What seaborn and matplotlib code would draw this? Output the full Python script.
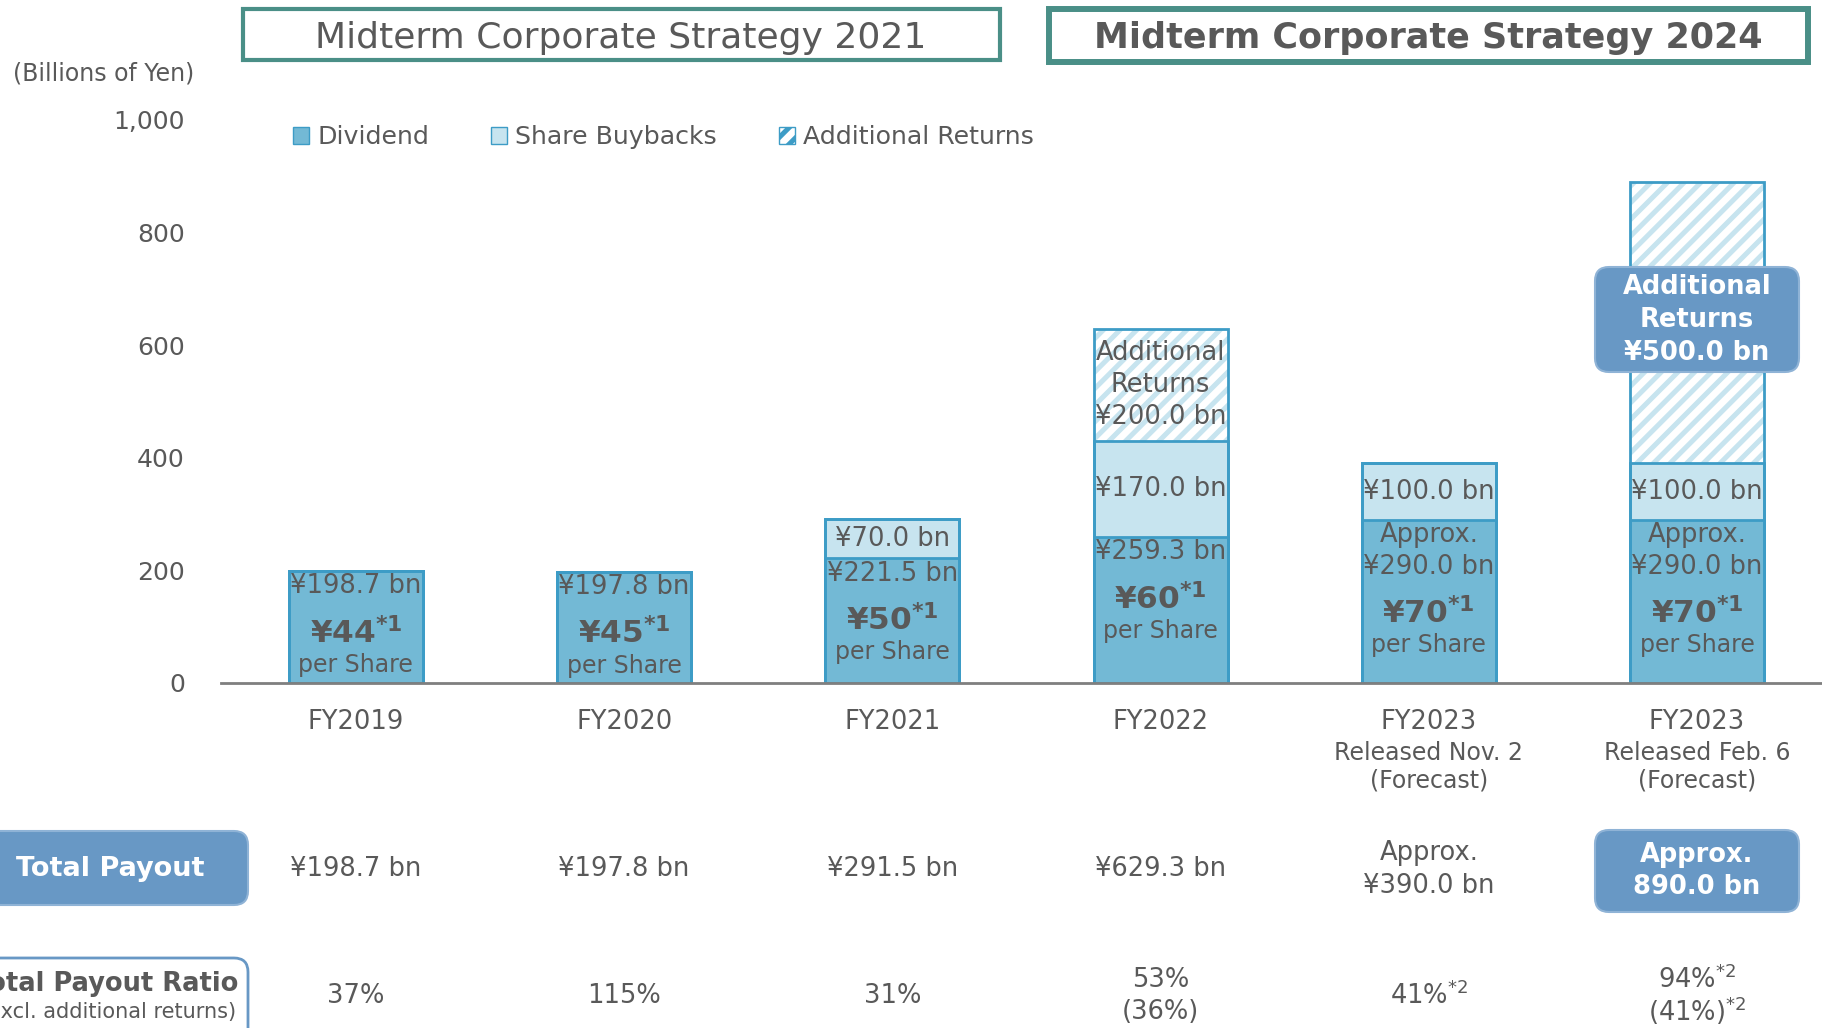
import matplotlib.pyplot as plt
import seaborn as sns
import pandas as pd
from matplotlib.patches import Patch, Rectangle, FancyBboxPatch
from matplotlib.transforms import IdentityTransform

# ---- data ----
categories = ["FY2019", "FY2020", "FY2021", "FY2022", "FY2023 Nov", "FY2023 Feb"]
tick_labels = ["FY2019", "FY2020", "FY2021", "FY2022", "FY2023", "FY2023"]
sub_labels = ["", "", "", "", "Released Nov. 2\n(Forecast)", "Released Feb. 6\n(Forecast)"]
dividend = [198.7, 197.8, 221.5, 259.3, 290.0, 290.0]
buybacks = [0, 0, 70.0, 170.0, 100.0, 100.0]
additional = [0, 0, 0, 200.0, 0, 500.0]
div_labels = ["¥198.7 bn", "¥197.8 bn", "¥221.5 bn", "¥259.3 bn",
              "Approx.\n¥290.0 bn", "Approx.\n¥290.0 bn"]
dps = [44, 45, 50, 60, 70, 70]
total_labels = ["¥198.7 bn", "¥197.8 bn", "¥291.5 bn", "¥629.3 bn",
                "Approx.\n¥390.0 bn", "Approx.\n890.0 bn"]
ratio_labels = ["37%", "115%", "31%", "53%\n(36%)", "41%$^{*2}$",
                "94%$^{*2}$\n(41%)$^{*2}$"]
yticks = [0, 200, 400, 600, 800, 1000]

df = pd.DataFrame({"cat": categories, "div": dividend, "buy": buybacks, "add": additional})
df["mid"] = df["div"] + df["buy"]
df["total"] = df["mid"] + df["add"]

# ---- style ----
W, H = 1822, 1028
div_c = "#73b9d5"
light_c = "#c7e4ef"
edge_c = "#3d9cc6"
box_c = "#6898c5"
teal = "#4a8f87"
txt = "#595959"

sns.set_theme(style="white")
plt.rcParams["font.family"] = ["DejaVu Sans"]
plt.rcParams["hatch.linewidth"] = 3.6

fig = plt.figure(figsize=(W / 100, H / 100), dpi=100)
ax = fig.add_axes([221 / W, 1 - 683 / H, (W - 221) / W, (683 - 120) / H])

# stacked bars by overlapping totals
sns.barplot(data=df, x="cat", y="total", color="white", edgecolor=light_c, hatch="//",
            linewidth=0, width=0.5, saturation=1, errorbar=None, ax=ax)
sns.barplot(data=df, x="cat", y="mid", color=light_c, edgecolor=edge_c,
            linewidth=2, width=0.5, saturation=1, errorbar=None, ax=ax)
sns.barplot(data=df, x="cat", y="div", color=div_c, edgecolor=edge_c,
            linewidth=2, width=0.5, saturation=1, errorbar=None, ax=ax)
sns.barplot(data=df, x="cat", y="total", fill=False, color=edge_c,
            linewidth=2, width=0.5, saturation=1, errorbar=None, ax=ax)

ax.set_xlim(-0.503, 5.466)
ax.set_ylim(0, 1000)
ax.set_yticks(yticks)
ax.set_yticklabels([f"{v:,}" for v in yticks])
ax.set_xticks(range(len(categories)))
ax.set_xticklabels(tick_labels)
ax.set_xlabel("")
ax.set_ylabel("")
ax.tick_params(axis="y", length=0, pad=26, labelsize=18, labelcolor=txt)
ax.tick_params(axis="x", length=0, pad=19, labelsize=18.5, labelcolor=txt)
for s in ["top", "right", "left"]:
    ax.spines[s].set_visible(False)
ax.spines["bottom"].set_color("#7f7f7f")
ax.spines["bottom"].set_linewidth(2)

# labels inside bars
for i in range(len(categories)):
    d, b, a = dividend[i], buybacks[i], additional[i]
    ax.text(i, d - 4, div_labels[i], ha="center", va="top", fontsize=18.5,
            color=txt, linespacing=1.3)
    nl = div_labels[i].count("\n") + 1
    y_ps = d - 110 - 56 * (nl - 1)
    ax.text(i, y_ps, f"¥{dps[i]}" + r"$^{\mathbf{*1}}$", ha="center", va="center",
            fontsize=22.5, fontweight="bold", color=txt)
    ax.text(i, y_ps - 57, "per Share", ha="center", va="center", fontsize=17, color=txt)
    if b:
        ax.text(i, d + b / 2, f"¥{b:.1f} bn", ha="center", va="center",
                fontsize=18.5, color=txt)
    if sub_labels[i]:
        ax.text(i, -149, sub_labels[i], ha="center", va="center", fontsize=17,
                color=txt, linespacing=1.2)
    # table rows
    if i < 5:
        ax.text(i, -331, total_labels[i], ha="center", va="center", fontsize=18.5,
                color=txt, linespacing=1.35)
    ls = 1.0 if "$" in ratio_labels[i] else 1.3
    ax.text(i, -556, ratio_labels[i], ha="center", va="center", fontsize=18.5,
            color=txt, linespacing=ls)

ax.text(3, df["mid"][3] + additional[3] / 2, "Additional\nReturns\n¥200.0 bn",
        ha="center", va="center", fontsize=18.5, color=txt, linespacing=1.3)


def px_box(x0, y0, x1, y1, r=14, **kw):
    p = FancyBboxPatch((x0, H - y1), x1 - x0, y1 - y0,
                       boxstyle=f"round,pad=0,rounding_size={r}",
                       transform=IdentityTransform(), **kw)
    fig.add_artist(p)


def px_text(x, y, s, **kw):
    fig.text(x / W, 1 - y / H, s, **kw)


# highlighted boxes
px_box(1595, 267, 1799, 372, facecolor=box_c, edgecolor="#8fb3d6", lw=1.5)
px_text(1697, 320, "Additional\nReturns\n¥500.0 bn", ha="center", va="center",
        fontsize=18.5, fontweight="bold", color="white", linespacing=1.35)
px_box(1595, 830, 1799, 912, facecolor=box_c, edgecolor="#8fb3d6", lw=1.5)
px_text(1697, 871, total_labels[5], ha="center", va="center", fontsize=18.5,
        fontweight="bold", color="white", linespacing=1.35)

# row headers
px_box(-30, 831, 248, 905, facecolor=box_c, edgecolor="#8fb3d6", lw=1.5)
px_text(110, 869, "Total Payout", ha="center", va="center", fontsize=19.5,
        fontweight="bold", color="white")
px_box(-30, 958, 248, 1060, facecolor="white", edgecolor=box_c, lw=2)
px_text(238, 984, "Total Payout Ratio", ha="right", va="center", fontsize=18.5,
        fontweight="bold", color=txt)
px_text(236, 1012, "(excl. additional returns)", ha="right", va="center",
        fontsize=15, color=txt)

# strategy header boxes
fig.add_artist(Rectangle((243 / W, 1 - 60 / H), (1000 - 243) / W, 51 / H,
                         transform=fig.transFigure, facecolor="white",
                         edgecolor=teal, lw=3))
px_text(621, 38, "Midterm Corporate Strategy 2021", ha="center", va="center",
        fontsize=26, color=txt)
fig.add_artist(Rectangle((1049 / W, 1 - 62 / H), (1808 - 1049) / W, 53 / H,
                         transform=fig.transFigure, facecolor="white",
                         edgecolor=teal, lw=4.3))
px_text(1428, 38, "Midterm Corporate Strategy 2024", ha="center", va="center",
        fontsize=25.2, fontweight="bold", color=txt)

px_text(104, 73, "(Billions of Yen)", ha="center", va="center", fontsize=17, color=txt)

# legend
handles = [Patch(facecolor=div_c, edgecolor=edge_c),
           Patch(facecolor=light_c, edgecolor=edge_c),
           Patch(facecolor="white", edgecolor=edge_c, hatch="//")]
fig.legend(handles, ["Dividend", "Share Buybacks", "Additional Returns"], ncol=3,
           frameon=False, loc="center left", bbox_to_anchor=(293 / W, 1 - 137 / H),
           borderaxespad=0, borderpad=0, handlelength=0.65, handleheight=0.65,
           handletextpad=0.3, columnspacing=2.45, fontsize=18.2, labelcolor=txt)

fig.savefig("out.png", dpi=100)
